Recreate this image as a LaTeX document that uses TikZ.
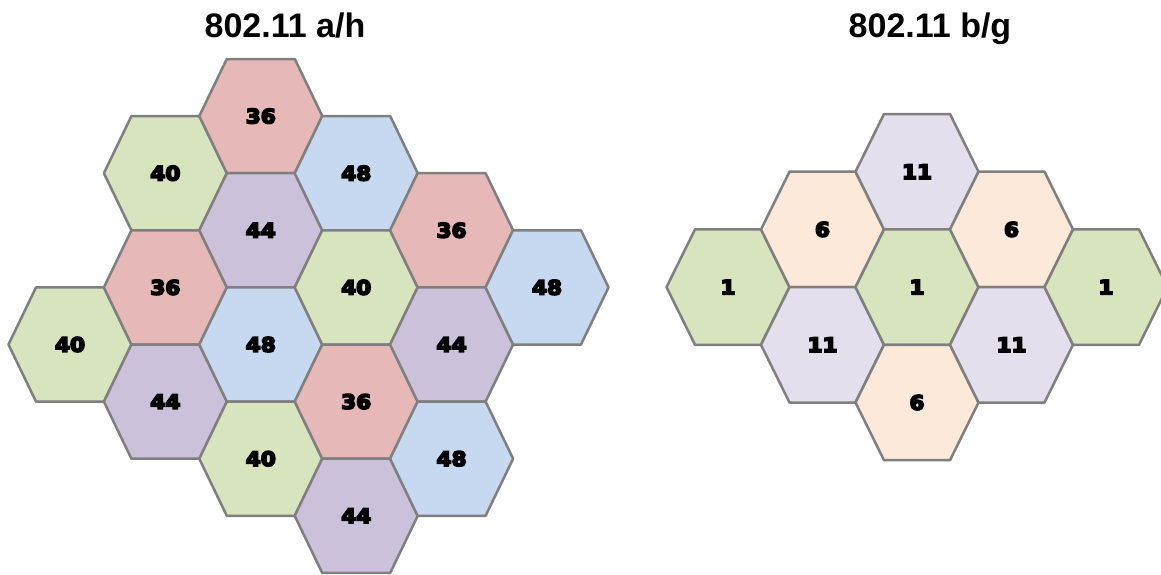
\documentclass[tikz,border=0pt]{standalone}
\usepackage{fontspec}
\usepackage{graphicx}
\setmainfont{Liberation Sans}
\newfontfamily\lblfont{DejaVu Sans}[BoldFont={DejaVu Sans Bold}, BoldFeatures={FakeBold=8}]
\definecolor{hexgray}{HTML}{7F7F7F}
\definecolor{hpink}{HTML}{E6B9B8}
\definecolor{hgreen}{HTML}{D7E4BD}
\definecolor{hblue}{HTML}{C6D9F1}
\definecolor{hpurple}{HTML}{CCC1DA}
\definecolor{rgreen}{HTML}{D7E4BD}
\definecolor{rpeach}{HTML}{FDE9D9}
\definecolor{rlilac}{HTML}{E4DFEC}
\newcommand\hexat[5]{%
  \path[hexline,fill=#4] (#2,#3) ++(-\ha,0) -- ++(\ha-\hb,-\hh) -- ++(2*\hb,0) -- ++(\ha-\hb,\hh) -- ++(\hb-\ha,\hh) -- ++(-2*\hb,0) -- cycle;
  \node[lbl] (#1) at (#2,#3) {\scalebox{1.08}[1]{#5}};}
\newcommand\hexL[5]{\def\ha{61.5}\def\hb{34}\def\hh{57.1}\hexat{#1}{70+#2*95.4}{116.1+#3*57.1}{#4}{#5}}
\newcommand\hexR[5]{\def\ha{61.5}\def\hb{33}\def\hh{57.7}\hexat{#1}{728+#2*94.5}{171.7+#3*57.7}{#4}{#5}}
\begin{document}
\begin{tikzpicture}[x=1pt,y=-1pt,
  hexline/.style={draw=hexgray, line width=2.5pt, line join=round},
  lbl/.style={inner sep=0pt, font=\lblfont\bfseries\fontsize{20}{21}\selectfont},
  ttl/.style={inner sep=0pt, anchor=base, font=\bfseries\fontsize{34}{36}\selectfont}]
\useasboundingbox (0,0) rectangle (1161,574);
\node[ttl] (t1) at (285,37) {802.11 a/h};
\node[ttl] (t2) at (930,37) {802.11 b/g};
% left cluster
\hexL{L1}{0}{4}{hgreen}{40}
\hexL{L2}{1}{1}{hgreen}{40}
\hexL{L3}{1}{3}{hpink}{36}
\hexL{L4}{1}{5}{hpurple}{44}
\hexL{L5}{2}{0}{hpink}{36}
\hexL{L6}{2}{2}{hpurple}{44}
\hexL{L7}{2}{4}{hblue}{48}
\hexL{L8}{2}{6}{hgreen}{40}
\hexL{L9}{3}{1}{hblue}{48}
\hexL{L10}{3}{3}{hgreen}{40}
\hexL{L11}{3}{5}{hpink}{36}
\hexL{L12}{3}{7}{hpurple}{44}
\hexL{L13}{4}{2}{hpink}{36}
\hexL{L14}{4}{4}{hpurple}{44}
\hexL{L15}{4}{6}{hblue}{48}
\hexL{L16}{5}{3}{hblue}{48}
% right cluster
\hexR{R1}{0}{2}{rgreen}{1}
\hexR{R2}{1}{1}{rpeach}{6}
\hexR{R3}{1}{3}{rlilac}{11}
\hexR{R4}{2}{0}{rlilac}{11}
\hexR{R5}{2}{2}{rgreen}{1}
\hexR{R6}{2}{4}{rpeach}{6}
\hexR{R7}{3}{1}{rpeach}{6}
\hexR{R8}{3}{3}{rlilac}{11}
\hexR{R9}{4}{2}{rgreen}{1}
\end{tikzpicture}
\end{document}
